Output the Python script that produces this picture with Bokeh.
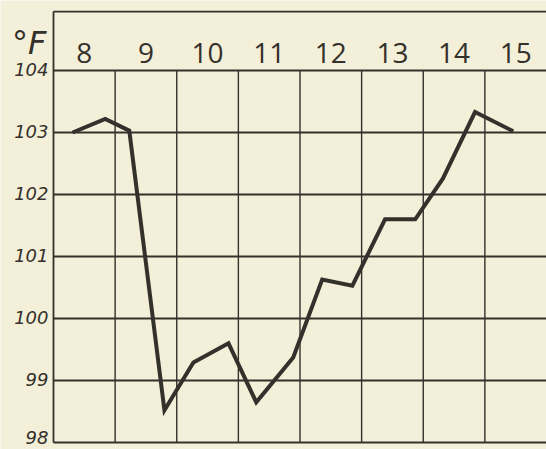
from bokeh.plotting import figure
from bokeh.models import Range1d
from bokeh.core.properties import value
from bokeh.embed import file_html
from bokeh.resources import INLINE

# Day columns (each column spans one day, label centred in the header row)
days = [8, 9, 10, 11, 12, 13, 14, 15]
day_labels = ["8", "9", "10", "11", "12", "13", "14", "15"]

# Temperature scale (°F)
temp_ticks = [98, 99, 100, 101, 102, 103, 104]
temp_labels = ["98", "99", "100", "101", "102", "103", "104"]
unit_label = "°F"

# Readings (morning / evening), position in day units and temperature in °F
reading_time = [8.31, 8.84, 9.23, 9.80, 10.27, 10.84, 11.29, 11.89,
                12.36, 12.85, 13.38, 13.87, 14.32, 14.84, 15.46]
temperature = [103.0, 103.22, 103.03, 98.52, 99.29, 99.6, 98.65, 99.37,
               100.63, 100.53, 101.6, 101.6, 102.26, 103.33, 103.02]

BG = "#f4efd8"
INK = "#34302b"

x_start, x_end = days[0], days[-1] + 1      # chart body spans the eight day columns
header_top = 104.95                          # upper border of the header row

p = figure(width=546, height=449, output_backend="svg", toolbar_location=None,
           x_range=Range1d(7.14, x_end), y_range=Range1d(97.887, 105.129),
           x_axis_location=None, y_axis_location=None,
           min_border=0)

p.background_fill_color = BG
p.border_fill_color = BG
p.outline_line_color = None
p.grid.visible = False

n_t = len(temp_ticks)
n_d = len(days)

# horizontal rules at every degree
p.segment(x0=[x_start] * n_t, y0=temp_ticks, x1=[x_end] * n_t, y1=temp_ticks,
          line_color=INK, line_width=1.8)
# top border of the header row and left border
p.segment(x0=[x_start, x_start], y0=[header_top, temp_ticks[0]],
          x1=[x_end, x_start], y1=[header_top, header_top],
          line_color=INK, line_width=1.8)
# vertical rules between days (not through the header row)
p.segment(x0=days[1:], y0=[temp_ticks[0]] * (n_d - 1),
          x1=days[1:], y1=[temp_ticks[-1]] * (n_d - 1),
          line_color=INK, line_width=1.4)

label_style = dict(x_offset=-5, text_align="right", text_baseline="middle",
                   text_font=value("DejaVu Sans"), text_font_style="italic",
                   text_font_size="18px", text_color=INK)

# temperature labels (the lowest one nudged up so it stays on the page)
p.text(x=[x_start] * (n_t - 1), y=temp_ticks[1:], text=temp_labels[1:],
       y_offset=-1, **label_style)
p.text(x=[x_start], y=temp_ticks[:1], text=temp_labels[:1],
       y_offset=-5, **label_style)

# unit label
p.text(x=[x_start], y=[104.45], text=[unit_label], x_offset=-7,
       text_align="right", text_baseline="alphabetic",
       text_font=value("DejaVu Sans"), text_font_style="italic",
       text_font_size="32px", text_color=INK)

# day labels in the header row
p.text(x=[d + 0.5 for d in days], y=[104.29] * n_d, text=day_labels,
       text_align="center", text_baseline="alphabetic",
       text_font=value("Open Sans"), text_font_size="28px", text_color=INK)

# temperature curve
p.line(reading_time, temperature, line_color=INK, line_width=4, line_join="miter")

open("out.html", "w").write(file_html(p, INLINE))
